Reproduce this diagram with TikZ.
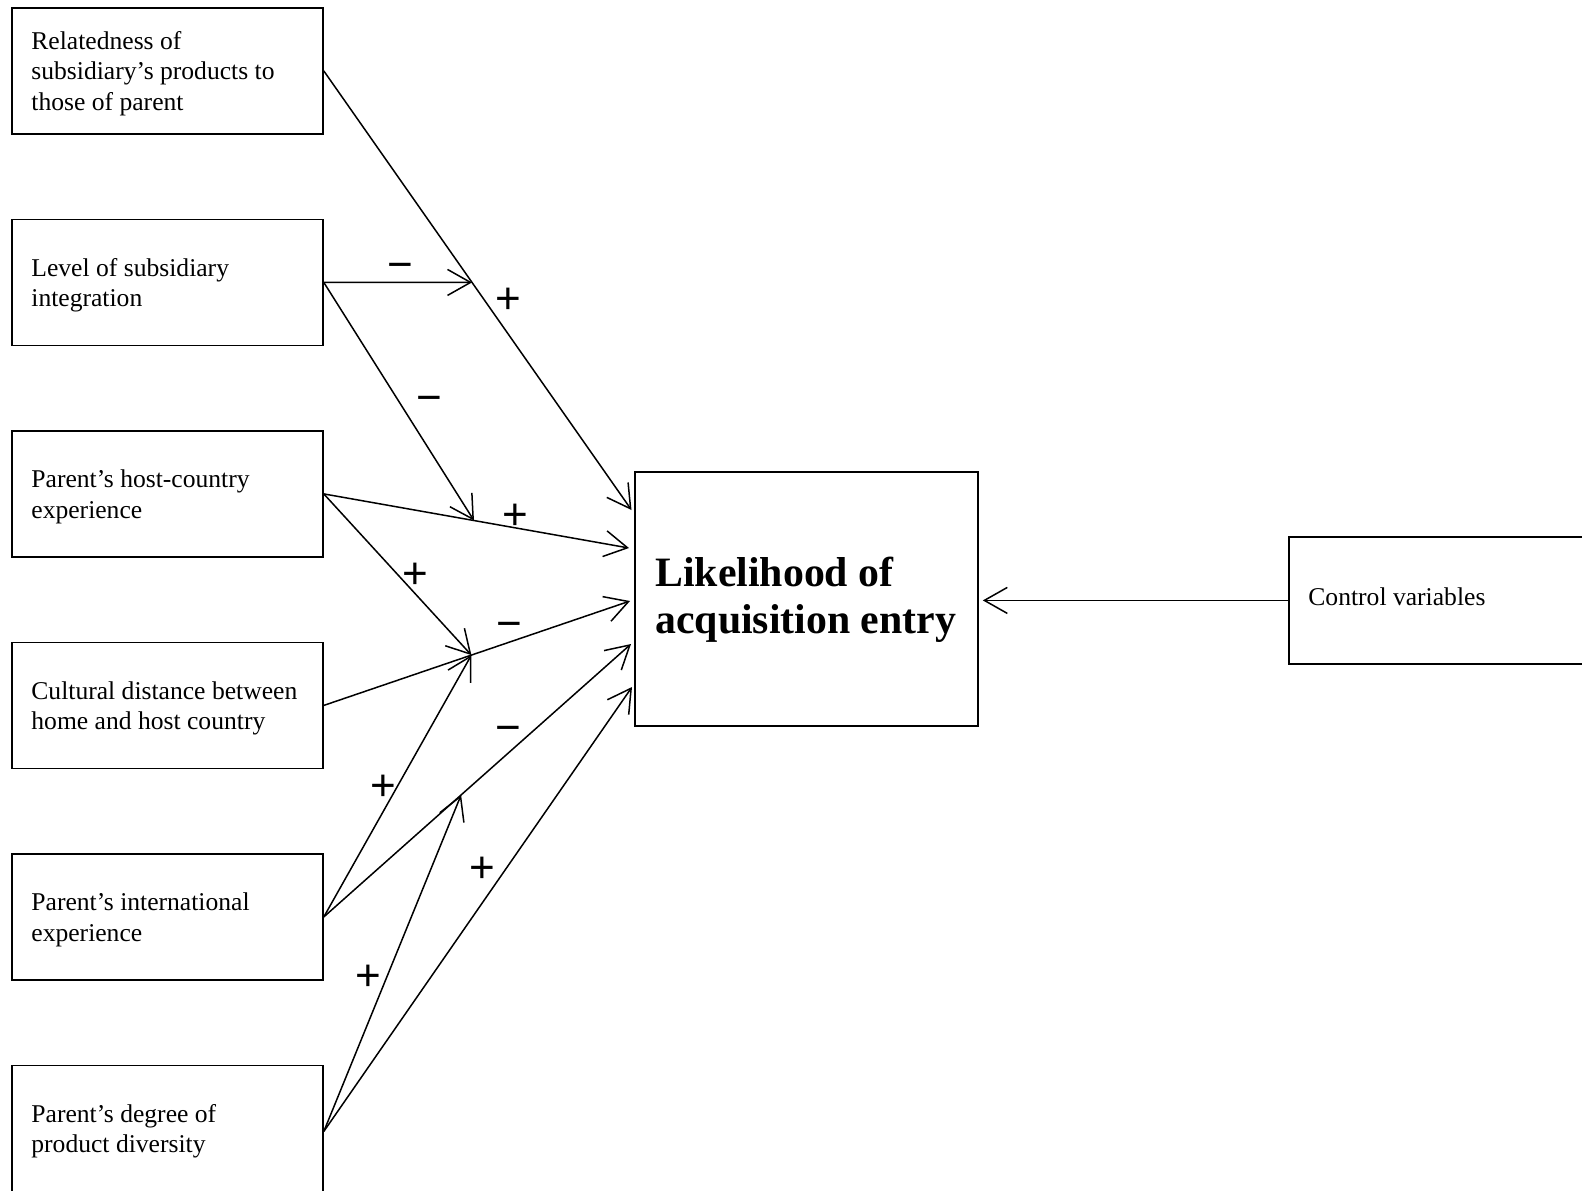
\documentclass[tikz,border=0pt]{standalone}
\usepackage{fontspec}
\setmainfont{Liberation Serif}
\newfontfamily\signfont{Liberation Sans}
\usetikzlibrary{arrows.meta,calc}
\begin{document}
\begin{tikzpicture}[x=0.5pt,y=-0.5pt,
  box/.style={draw, line width=0.9pt, minimum width=155.5pt, minimum height=63pt, inner sep=0pt, anchor=north west},
  boxtext/.style={anchor=base west, align=left, inner sep=0pt, font=\fontsize{12.8}{15.25}\selectfont},
  link/.style={line width=0.75pt, -{Straight Barb[length=11.5pt,width=13pt,line width=0.75pt]}},
  sign/.style={anchor=base, inner sep=0pt, font=\signfont\fontsize{22}{22}\selectfont},
]
\useasboundingbox (0,0) rectangle (1582,1190);
\clip (0,0) rectangle (1582,1190);

% left boxes
\node[box] (B1) at (11,7) {};
\node[box] (B2) at (11,218.5) {};
\node[box] (B3) at (11,430) {};
\node[box] (B4) at (11,641.5) {};
\node[box] (B5) at (11,853) {};
\node[box, minimum height=66pt] (B6) at (11,1064.5) {};

% texts (anchored at the baseline of their last line)
\node[boxtext] (T1) at (31,110.3) {Relatedness of\\subsidiary’s products to\\those of parent};
\node[boxtext] (T2) at (31,306.7) {Level of subsidiary\\integration};
\node[boxtext] (T3) at (31,518) {Parent’s host-country\\experience};
\node[boxtext] (T4) at (31,729.7) {Cultural distance between\\home and host country};
\node[boxtext] (T5) at (31,941) {Parent’s international\\experience};
\node[boxtext] (T6) at (31,1152.5) {Parent’s degree of\\product diversity};

% central box
\node[draw, line width=0.9pt, minimum width=171.5pt, minimum height=127pt, inner sep=0pt, anchor=north west] (C) at (634,471) {};
\node[anchor=base west, align=left, inner sep=0pt, font=\bfseries\fontsize{20.9}{23.35}\selectfont] (CT) at (655,633.5) {Likelihood of\\acquisition entry};

% control box
\node[draw, line width=0.9pt, minimum width=170pt, minimum height=63.5pt, inner sep=0pt, anchor=north west] (K) at (1288,536) {};
\node[boxtext] (KT) at (1308,605) {Control variables};

% arrow tips on the central box
\coordinate (t1) at (631.5,510);
\coordinate (t2) at (629,548);
\coordinate (t3) at (630,601);
\coordinate (t4) at (631,644);
\coordinate (t5) at (632,687);
\coordinate (tc) at ([xshift=2pt]C.east);

% direct effects
\draw[link] (B1.east) -- (t1);
\draw[link] (B3.east) -- (t2);
\draw[link] (B4.east) -- (t3);
\draw[link] (B5.east) -- (t4);
\draw[link] (B6.east) -- (t5);
\draw[link] (K.west) -- (K.west -| tc);

% moderating points
\path (B2.east) ++(300,0) coordinate (h2);
\coordinate (m1) at (intersection of B1.east--t1 and B2.east--h2);
\coordinate (m2) at ($(B3.east)!0.492!(t2)$);
\coordinate (m3) at ($(B4.east)!0.482!(t3)$);
\coordinate (m4) at ($(B5.east)!0.447!(t4)$);

\draw[link] (B2.east) -- (m1);
\draw[link] (B2.east) -- (m2);
\draw[link] (B3.east) -- (m3);
\draw[link] (B5.east) -- (m3);
\draw[link] (B6.east) -- (m4);

% signs
\node[sign] (s1) at (400.5,279.5) {−};
\node[sign] (s2) at (508,313) {+};
\node[sign] (s3) at (429,412.5) {−};
\node[sign] (s4) at (515,529.5) {+};
\node[sign] (s5) at (415,588) {+};
\node[sign] (s6) at (509.5,638.5) {−};
\node[sign] (s7) at (508.5,742.5) {−};
\node[sign] (s8) at (383.5,800.5) {+};
\node[sign] (s9) at (482.5,882) {+};
\node[sign] (s10) at (368,990.5) {+};
\end{tikzpicture}
\end{document}
